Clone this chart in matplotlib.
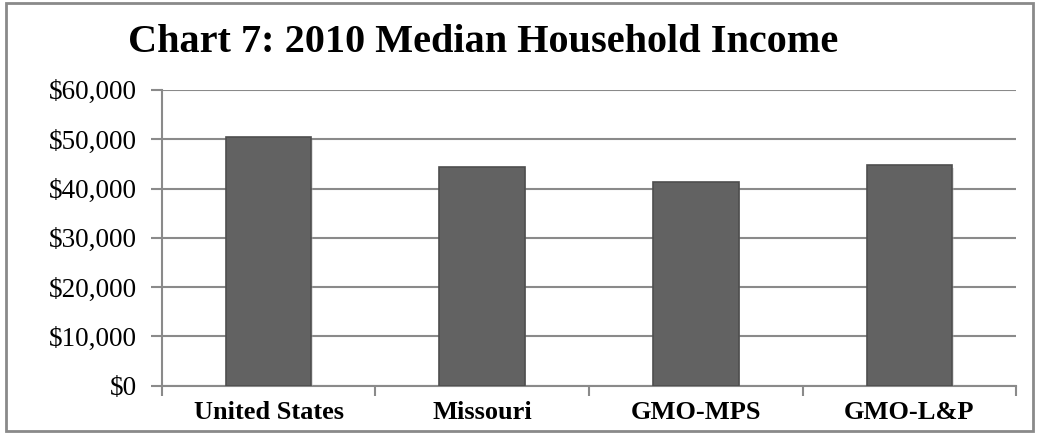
import matplotlib
matplotlib.use("Agg")
import matplotlib.pyplot as plt
import matplotlib.patheffects as pe
from matplotlib.patches import Rectangle
from matplotlib.ticker import FuncFormatter, FixedLocator
import numpy as np

categories = ["United States", "Missouri", "GMO-MPS", "GMO-L&P"]
income = [50400, 44300, 41380, 44770]
yticks = [0, 10000, 20000, 30000, 40000, 50000, 60000]
title = "Chart 7: 2010 Median Household Income"

plt.rcParams['font.family'] = ['Liberation Serif', 'DejaVu Serif']

fig = plt.figure(figsize=(10.37, 4.34), dpi=100)
ax = fig.add_axes([0.156, 0.111, 0.824, 0.682])

x = np.arange(len(categories))
bars = ax.bar(x, income, width=0.40, color='#626262', edgecolor='#4e4e4e', linewidth=1.2, zorder=3)
for b in bars:
    b.set_path_effects([pe.SimplePatchShadow(offset=(1, -2), shadow_rgbFace='#aaaaaa', alpha=0.35), pe.Normal()])

ax.set_xlim(-0.5, len(categories) - 0.5)
ax.set_ylim(0, 60000)
ax.yaxis.set_major_locator(FixedLocator(yticks))
ax.yaxis.set_major_formatter(FuncFormatter(lambda v, p: "${:,.0f}".format(v)))
ax.grid(axis='y', color='#8a8a8a', linewidth=1.5, zorder=0)
ax.set_axisbelow(True)

ax.set_xticks(x)
ax.set_xticklabels(categories, fontsize=19, fontweight='bold')
ax.set_xticks(np.arange(len(categories) + 1) - 0.5, minor=True)
ax.tick_params(axis='x', which='major', length=0, pad=11)
ax.tick_params(axis='x', which='minor', length=7, width=1.5, color='#8a8a8a', direction='out')
ax.tick_params(axis='y', length=8, width=1.5, color='#8a8a8a', labelsize=19.5, pad=10)

for s in ['top', 'right']:
    ax.spines[s].set_visible(False)
for s in ['left', 'bottom']:
    ax.spines[s].set_color('#8a8a8a')
    ax.spines[s].set_linewidth(1.5)

fig.text(0.466, 0.903, title, fontsize=29, fontweight='bold', ha='center', va='center')

fig.patches.append(Rectangle((0.006, 0.006), 0.99, 0.987, transform=fig.transFigure,
                             fill=False, edgecolor='#8a8a8a', linewidth=2))

fig.savefig("out.png", dpi=100)
